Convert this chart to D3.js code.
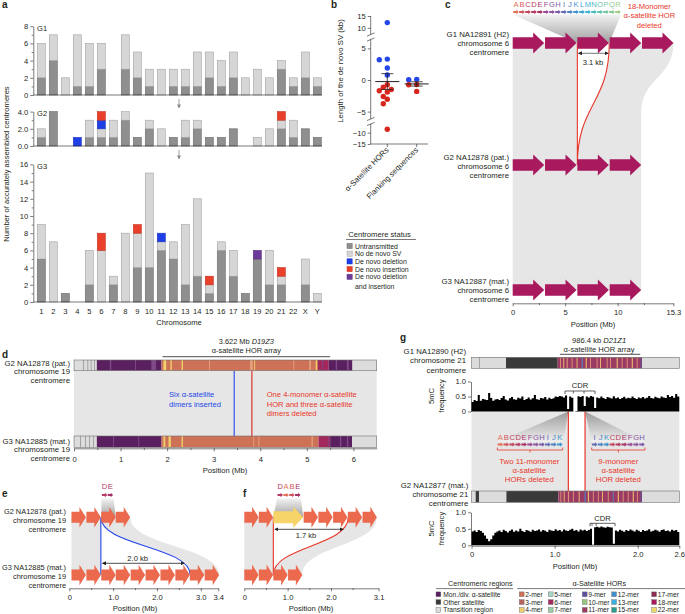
<!DOCTYPE html>
<html>
<head>
<meta charset="utf-8">
<script src="https://cdn.jsdelivr.net/npm/d3@7"></script>
<style>
  body { margin: 0; background: #fff; }
  svg { font-family: "Liberation Sans", Arial, Helvetica, sans-serif; }
</style>
</head>
<body>
<svg id="fig" width="685" height="614"></svg>
<script>
// ---------- a: accurately assembled centromeres ----------
const chromosomes = ['1','2','3','4','5','6','7','8','9','10','11','12','13','14','15','16','17','18','19','20','21','22','X','Y'];
const g1Untransmitted = [2,4,0,1,1,3,0,3,2,1,0,1,1,1,2,1,2,0,0,0,3,1,2,1];
const g1NoSV          = [4,3,2,6,5,3,0,4,3,2,3,2,2,4,3,3,3,2,3,2,1,1,3,1];
const g2Untransmitted = [1,4,0,0,1,1,1,3,1,2,0,1,1,2,1,1,2,0,0,0,2,1,2,1];
const g2NoSV          = [1,0,0,0,2,1,2,1,0,1,2,0,2,1,0,0,0,0,1,2,1,2,0,0];
const g2Insertion     = [0,0,0,1,0,1,0,0,0,0,0,0,0,0,0,0,0,0,0,0,0,0,0,0];
const g2Deletion      = [0,0,0,0,0,1,0,0,0,0,0,0,0,0,0,0,0,0,0,0,1,0,0,0];
const g3Untransmitted = [5,0,1,0,2,0,2,0,4,4,6,5,2,3,1,6,3,1,5,2,2,0,2,0];
const g3NoSV          = [4,7,0,0,4,6,1,8,4,11,1,2,7,9,1,1,3,0,0,4,1,0,3,1];
const g3Insertion     = [0,0,0,0,0,0,0,0,0,0,1,0,0,0,0,0,0,0,0,0,0,0,0,0];
const g3Deletion      = [0,0,0,0,0,2,0,0,1,0,0,0,0,0,1,0,0,0,0,0,1,0,0,0];
const g3DelIns        = [0,0,0,0,0,0,0,0,0,0,0,0,0,0,0,0,0,0,1,0,0,0,0,0];
const statusNames = ['Untransmitted','No de novo SV','De novo deletion','De novo insertion','De novo deletion|and insertion'];

// ---------- b: length of de novo SVs ----------
const svGroups = ['α-Satellite HORs','Flanking sequences'];
const horInsertions = [12.2, 3.2, 3.3, 1.9, 0.8];
const horDeletions = [-0.75, -1.15, -1.5, -1.7, -1.9, -2.6, -3.05, -3.75, -8.5];
const flankInsertions = [0.1, 0.05];
const flankDeletions = [-0.7, -0.75, -1.8];
const bTicks = [-15, -10, -5, 0, 5, 10, 15];

// ---------- c: chromosome 6 HOR deletion ----------
const cMonomers = ['A','B','C','D','E','F','G','H','I','J','K','L','M','N','O','P','Q','R'];
const cG1Hors = [[0,3.0],[3.08,6.08],[6.16,9.16],[9.24,12.24],[12.32,15.32]];
const cG2Hors = [[0,3.0],[3.08,6.08],[6.16,9.16],[9.24,12.24]];
const cG3Hors = [[0,3.0],[3.08,6.08],[6.16,9.16],[9.24,12.24]];
const cDeletion = [6.16, 9.2];
const cTicks = [0, 5, 10, 15.3];

// ---------- d: chromosome 19 array ----------
const dArray = [1.9, 5.5];
const dInsertionAt = 3.44;
const dDeletionAt = 3.82;
const dRegionsG2 = [[0,0.49,'transition'],[0.49,1.88,'mon'],[1.88,5.24,'2-mer'],[5.24,5.47,'6-mer'],[5.47,5.98,'mon'],[5.98,6.5,'transition']];
const dStripesG2 = [[0.2,0.015,'tline'],[0.29,0.015,'tline'],[0.36,0.015,'tline'],[0.43,0.015,'tline'],[0.77,0.03,'monLight'],[1.31,0.02,'monLight'],[1.66,0.1,'monLight'],[1.92,0.06,'4-mer'],[2.07,0.03,'4-mer'],[2.31,0.03,'4-mer'],[2.9,0.02,'hl'],[3.78,0.06,'hl'],[3.87,0.02,'4-mer'],[4.71,0.02,'hl'],[5.05,0.04,'hl'],[5.19,0.03,'4-mer'],[5.33,0.02,'monLight'],[5.62,0.03,'monLight'],[5.86,0.04,'monLight']];
const dRegionsG3 = [[0,0.49,'transition'],[0.49,1.88,'mon'],[1.88,5.25,'2-mer'],[5.25,5.5,'6-mer'],[5.5,5.97,'mon'],[5.97,6.5,'transition']];
const dStripesG3 = [[0.13,0.015,'tline'],[0.24,0.015,'tline'],[0.33,0.015,'tline'],[0.41,0.015,'tline'],[0.84,0.02,'monLight'],[1.38,0.02,'monLight'],[1.92,0.04,'4-mer'],[2.03,0.05,'4-mer'],[2.31,0.03,'4-mer'],[3.85,0.02,'hl'],[3.96,0.02,'hl'],[5.1,0.03,'hl'],[5.45,0.02,'monLight'],[5.71,0.03,'monLight'],[5.86,0.03,'monLight']];
const dTicks = [0,1,2,3,4,5,6];

// ---------- e / f: chromosome 19 HOR changes ----------
const eMonomers = ['D','E'];
const eG2Hors = [[0.05,0.38,'2-mer'],[0.39,0.72,'2-mer'],[0.73,1.06,'2-mer'],[1.06,1.39,'2-mer']];
const eG3Hors = [[0.05,0.38,'2-mer'],[0.39,0.72,'2-mer'],[0.73,1.06,'2-mer'],[1.06,1.39,'2-mer'],[1.40,1.73,'2-mer'],[1.74,2.07,'2-mer'],[2.08,2.41,'2-mer'],[2.42,2.75,'2-mer'],[2.75,3.08,'2-mer'],[3.09,3.42,'2-mer']];
const eInsertion = [0.72, 2.76];
const eTicks = [0, 1, 2, 3, 3.4];
const fMonomers = ['D','A','B','E'];
const fG2Hors = [[0,0.33,'2-mer'],[0.335,0.665,'2-mer'],[0.67,1.36,'4-mer'],[1.37,1.70,'2-mer'],[1.71,2.04,'2-mer'],[2.05,2.38,'2-mer'],[2.39,2.72,'2-mer'],[2.73,3.06,'2-mer']];
const fG3Hors = [[0,0.33,'2-mer'],[0.335,0.665,'2-mer'],[0.67,1.0,'2-mer'],[1.01,1.34,'2-mer']];
const fDeletion = [0.67, 2.40];
const fTicks = [0, 1, 2, 3.1];

// ---------- g: chromosome 21 with CDR ----------
const gArray = [1.04, 2.03];
const gRegionsG1 = [[0,0.415,'transition'],[0.415,1.037,'other'],[1.037,2.03,'11-mer'],[2.03,2.05,'mon'],[2.05,2.5,'transition']];
const gStripesG1 = [[0.09,0.008,'tline'],[1.065,0.01,'hl'],[1.105,0.01,'4-mer'],[1.145,0.012,'hl'],[1.205,0.01,'hl'],[1.265,0.01,'4-mer'],[1.326,0.012,'12-mer'],[1.374,0.012,'4-mer'],[1.426,0.01,'hl'],[1.506,0.01,'hl'],[1.546,0.01,'4-mer'],[1.627,0.01,'hl'],[1.667,0.01,'hl'],[1.747,0.012,'4-mer'],[1.807,0.01,'hl'],[1.868,0.01,'hl'],[1.928,0.012,'4-mer'],[1.988,0.01,'hl']];
const gRegionsG2 = [[0,0.05,'transition'],[0.05,0.09,'other'],[0.09,0.42,'transition'],[0.42,1.045,'other'],[1.045,2.03,'11-mer'],[2.03,2.05,'mon'],[2.05,2.5,'transition']];
const gStripesG2 = [[1.07,0.01,'hl'],[1.11,0.01,'4-mer'],[1.16,0.012,'hl'],[1.22,0.01,'hl'],[1.29,0.01,'4-mer'],[1.36,0.012,'12-mer'],[1.40,0.012,'4-mer'],[1.46,0.01,'hl'],[1.52,0.01,'hl'],[1.57,0.01,'4-mer'],[1.64,0.01,'hl'],[1.70,0.01,'12-mer'],[1.76,0.012,'4-mer'],[1.82,0.01,'hl'],[1.88,0.01,'hl'],[1.94,0.012,'4-mer'],[1.99,0.01,'hl']];
const gLeftMonomers = ['A','B','C','D','E','F','G','H','I','J','K'];
const gRightMonomers = ['I','J','K','C','D','E','F','G','H'];
const gDeletions = [1.165, 1.366];
const gCdrG1 = [1.125, 1.225, 1.354, 1.486];
const gCdrG2 = [1.426, 1.45, 1.5, 1.727];
const methylBin = 0.025;
const methylG1 = [0.32,0.38,0.35,0.55,0.36,0.42,0.40,0.38,0.62,0.45,0.36,0.40,
  0.42,0.38,0.45,0.52,0.40,0.37,0.44,0.48,0.41,0.39,0.46,0.43,0.50,0.38,0.42,0.47,0.40,0.44,0.55,0.41,0.39,0.45,0.43,0.48,0.40,0.46,0.42,0.44,0.50,
  0.48,0.52,0.50,0.47,0.53,0.08,0.50,0.46,0.0,0.02,0.51,0.48,0.52,0.18,0.50,0.47,0.52,0.49,0.12,
  0.47,0.44,0.50,0.45,0.42,0.48,0.46,0.43,0.51,0.44,0.47,0.42,0.45,0.49,0.43,0.46,0.44,0.50,0.45,0.42,
  0.47,0.44,0.48,0.43,0.46,0.52,0.45,0.43,0.49,0.46,0.44,0.50,0.47,0.45,0.55,0.48,0.52,0.46,0.58,0.50];
const methylG2 = [0.42,0.45,0.40,0.46,0.43,0.38,0.30,0.20,0.12,0.18,0.30,
  0.38,0.42,0.45,0.40,0.47,0.43,0.39,0.44,0.48,0.41,0.45,0.42,0.50,0.43,0.40,0.46,0.44,0.41,0.47,0.43,0.45,0.48,0.42,0.46,0.44,0.40,
  0.47,0.45,0.43,0.49,0.44,0.46,0.42,0.48,0.45,0.43,0.47,0.50,0.44,0.46,0.42,0.48,0.45,0.47,0.43,0.46,
  0.50,0.02,0.55,0.56,0.54,0.57,0.55,0.53,0.56,0.55,0.54,0.05,
  0.45,0.42,0.47,0.44,0.41,0.46,0.43,0.48,0.45,0.42,0.47,0.44,0.40,0.46,0.43,0.45,0.49,0.42,0.44,0.47,0.45,0.41,0.46,0.48,0.43,0.45,0.42,0.47,0.44,0.46,0.40];

const regionNames = [['mon','Mon./div. α-satellite'],['other','Other satellite'],['transition','Transition region']];
const horNames = ['2-mer','3-mer','4-mer','5-mer','6-mer','7-mer','9-mer','10-mer','11-mer','12-mer','13-mer','15-mer','17-mer','18-mer','22-mer'];

// ---------- colours ----------
const INK = '#231f20';
const FS = 7.6;
const segColor = {transition:'#dcdcdc', tline:'#8a8a8a', mon:'#5a1f5f', monLight:'#7f4a86', other:'#3a3a3a', hl:'#e2a07c',
  '2-mer':'#cd7157','3-mer':'#b8625e','4-mer':'#f0cf6e','5-mer':'#a8d6c6','6-mer':'#a2275c','7-mer':'#97cea5',
  '9-mer':'#5b4fa0','10-mer':'#96c680','11-mer':'#9b3a62','12-mer':'#4590cf','13-mer':'#3bb0df','15-mer':'#2a9d90',
  '17-mer':'#8c2b4f','18-mer':'#a6195d','22-mer':'#eed86c'};
const arrowColor = {'18-mer':'#a8195d','2-mer':'#eb6a4e','4-mer':'#f6d46a'};
const monomerColor = {A:'#e2735a',B:'#d2555c',C:'#c4455e',D:'#b63a62',E:'#a83266',F:'#9a4a93',G:'#8d55a0',H:'#7b5ba8',I:'#5f6cb4',J:'#4b82c3',K:'#3f94cd',L:'#3aa6d6',M:'#3db5d3',N:'#4bbcc3',O:'#5fc2b0',P:'#76c79f',Q:'#8bcb92',R:'#a0cf88'};
const RED = '#e8362a', BLUE = '#2346e8';

const svg = d3.select('#fig');
const defs = svg.append('defs');
function marker(id, col) {
  defs.append('marker').attr('id', id).attr('viewBox', '0 0 10 10').attr('refX', 9).attr('refY', 5)
    .attr('markerWidth', 5).attr('markerHeight', 5).attr('orient', 'auto-start-reverse')
    .append('path').attr('d', 'M0,0L10,5L0,10z').attr('fill', col);
}
marker('ah', INK); marker('ahg', '#8c8c8c');
function grad(id, c0, c1) {
  const lg = defs.append('linearGradient').attr('id', id).attr('x1', 0).attr('x2', 0).attr('y1', 0).attr('y2', 1);
  lg.append('stop').attr('offset', 0).attr('stop-color', c0);
  lg.append('stop').attr('offset', 1).attr('stop-color', c1);
}
grad('fadeDown', '#f2f2f2', '#a0a0a0');
grad('fadeUp', '#9a9a9a', '#f0f0f0');

function label(g, x, y, s, o = {}) {
  const t = g.append('text').attr('x', x).attr('y', y).text(s)
    .attr('font-size', o.size || FS).attr('fill', o.color || INK).attr('text-anchor', o.anchor || 'start');
  if (o.weight) t.attr('font-weight', o.weight);
  return t;
}
function block(g, x, y, arr, o = {}) {
  arr.forEach((s, i) => label(g, x, y + i * (o.lh || 8.8), s, o));
}
function styleAxis(ax) {
  ax.attr('font-family', null).attr('font-size', FS);
  ax.selectAll('.domain').attr('stroke', INK).attr('stroke-width', 0.6);
  ax.selectAll('.tick line').attr('stroke', INK).attr('stroke-width', 0.6);
  ax.selectAll('.tick text').attr('fill', INK);
  return ax;
}
function hArrow(g, x0, x1, y, fill, bodyH, headH, headLen) {
  const hl = Math.min(headLen, (x1 - x0) * 0.7);
  g.append('path').attr('fill', fill)
    .attr('d', `M${x0},${y - bodyH / 2}H${x1 - hl}V${y - headH / 2}L${x1},${y}L${x1 - hl},${y + headH / 2}V${y + bodyH / 2}H${x0}Z`);
}
function sCurve(x1, y1, x2, y2) {
  const ym = (y1 + y2) / 2;
  return `C${x1},${ym} ${x2},${ym} ${x2},${y2}`;
}
function posAxis(g, x, y, ticks, fmt, minor, pad) {
  const ax = g.append('g').attr('transform', `translate(0,${y})`)
    .call(d3.axisBottom(x).tickValues(ticks).tickFormat(fmt).tickSize(3).tickPadding(pad).tickSizeOuter(0));
  styleAxis(ax);
  if (minor) {
    const mn = g.append('g').attr('transform', `translate(0,${y})`)
      .call(d3.axisBottom(x).tickValues(minor).tickFormat('').tickSize(1.8).tickSizeOuter(0));
    styleAxis(mn); mn.select('.domain').remove();
  }
  return ax;
}
function drawBar(g, x, y, h, regions, stripes) {
  regions.forEach(([a, b, t]) => g.append('rect').attr('x', x(a)).attr('y', y).attr('width', x(b) - x(a)).attr('height', h).attr('fill', segColor[t]));
  stripes.forEach(([p, w, t]) => g.append('rect').attr('x', x(p)).attr('y', y).attr('width', Math.max(0.7, x(p + w) - x(p))).attr('height', h).attr('fill', segColor[t]));
  const a0 = regions[0][0], a1 = regions[regions.length - 1][1];
  g.append('rect').attr('x', x(a0)).attr('y', y).attr('width', x(a1) - x(a0)).attr('height', h)
    .attr('fill', 'none').attr('stroke', '#707070').attr('stroke-width', 0.6);
}
function monomerRow(g, x0, w, y, letters, textY) {
  letters.forEach((m, i) => {
    hArrow(g, x0 + i * w + 0.2, x0 + (i + 1) * w - 0.2, y, monomerColor[m], 2.2, 4.6, 2.4);
    label(g, x0 + (i + 0.5) * w, textY, m, {anchor: 'middle', color: monomerColor[m]});
  });
}
function panelLetter(x, y, s) { label(svg, x, y, s, {size: 10, weight: 'bold'}); }

// ===== panel a =====
const pa = svg.append('g');
panelLetter(2, 8, 'a');
const xA = d3.scaleBand().domain(chromosomes).range([35.3, 323.3]).paddingInner(0.33).paddingOuter(0.165);
const statusKeys = ['untransmitted', 'noSV', 'insertion', 'deletion', 'delIns'];
const statusFill = {untransmitted: '#8f8f8f', noSV: '#d6d6d6', insertion: '#1f3fe6', deletion: '#e8402a', delIns: '#6c3b99'};
const statusLine = {untransmitted: '#6a6a6a', noSV: '#a3a3a3', insertion: '#1a35c8', deletion: '#c63321', delIns: '#58307f'};
const zeros = chromosomes.map(() => 0);
const generations = [
  {name: 'G1', top: 8, base: 95, series: {untransmitted: g1Untransmitted, noSV: g1NoSV}},
  {name: 'G2', top: 4, base: 146, series: {untransmitted: g2Untransmitted, noSV: g2NoSV, insertion: g2Insertion, deletion: g2Deletion}},
  {name: 'G3', top: 16, base: 302, series: {untransmitted: g3Untransmitted, noSV: g3NoSV, insertion: g3Insertion, deletion: g3Deletion, delIns: g3DelIns}}
];
generations.forEach(gen => {
  const y = d3.scaleLinear().domain([0, gen.top]).range([gen.base, gen.base - gen.top * 8.6]);
  const rows = chromosomes.map((c, i) => {
    const r = {chr: c};
    statusKeys.forEach(k => r[k] = (gen.series[k] || zeros)[i]);
    return r;
  });
  d3.stack().keys(statusKeys)(rows).forEach(layer => {
    pa.append('g').selectAll('rect').data(layer.filter(d => d[1] > d[0])).join('rect')
      .attr('x', d => xA(d.data.chr)).attr('width', xA.bandwidth())
      .attr('y', d => y(d[1])).attr('height', d => y(d[0]) - y(d[1]))
      .attr('fill', statusFill[layer.key]).attr('stroke', statusLine[layer.key]).attr('stroke-width', 0.6);
  });
  styleAxis(pa.append('g').attr('transform', 'translate(33.3,0)')
    .call(d3.axisLeft(y).tickValues(d3.range(0, gen.top + 1, 2)).tickSize(3).tickPadding(2).tickSizeOuter(0)));
  const mn = pa.append('g').attr('transform', 'translate(33.3,0)')
    .call(d3.axisLeft(y).tickValues(d3.range(1, gen.top, 2)).tickFormat('').tickSize(1.6).tickSizeOuter(0));
  styleAxis(mn); mn.select('.domain').remove();
  pa.append('line').attr('x1', 33.3).attr('x2', 322).attr('y1', gen.base).attr('y2', gen.base).attr('stroke', INK).attr('stroke-width', 0.6);
  label(pa, 37, y(gen.top) + 4.6, gen.name);
});
const chrAxis = pa.append('g').attr('transform', 'translate(0,302)').call(d3.axisBottom(xA).tickSize(0).tickPadding(7));
styleAxis(chrAxis); chrAxis.select('.domain').remove();
label(pa, 179, 325.4, 'Chromosome', {anchor: 'middle'});
label(pa, 0, 0, 'Number of accurately assembled centromeres', {anchor: 'middle'}).attr('transform', 'translate(9,164) rotate(-90)');
[[99, 108], [150, 159]].forEach(([a, b]) => pa.append('line').attr('x1', 179).attr('x2', 179).attr('y1', a).attr('y2', b)
  .attr('stroke', '#8c8c8c').attr('stroke-width', 0.8).attr('marker-end', 'url(#ahg)'));
// legend
label(pa, 348.3, 236.8, 'Centromere status');
pa.append('line').attr('x1', 346).attr('x2', 416).attr('y1', 239.5).attr('y2', 239.5).attr('stroke', INK).attr('stroke-width', 0.6);
statusKeys.forEach((k, i) => {
  const yc = 246 + i * 7.7;
  pa.append('rect').attr('x', 347).attr('y', yc - 2.6).attr('width', 5.2).attr('height', 5.2)
    .attr('fill', statusFill[k]).attr('stroke', statusLine[k]).attr('stroke-width', 0.5);
  statusNames[i].split('|').forEach((s, j) => label(pa, 355, yc + 2.5 + j * 9.2, s, {size: 6.9}));
});

// ===== panel b =====
const pb = svg.append('g');
panelLetter(331, 8, 'b');
const yB = d3.scaleLinear().domain([-15, -7.5, -5.8, 5.8, 8, 15]).range([144, 127, 116.7, 43.3, 32.5, 16]);
const xB = d3.scalePoint().domain(svGroups).range([387.3, 416.7]);
const ayB = pb.append('g').attr('transform', 'translate(370.7,0)')
  .call(d3.axisLeft(yB).tickValues(bTicks).tickSize(3).tickPadding(2).tickSizeOuter(0));
styleAxis(ayB); ayB.select('.domain').remove();
[[16, 34.5], [39.5, 119], [124, 144]].forEach(([a, b]) => pb.append('line').attr('x1', 370.7).attr('x2', 370.7).attr('y1', a).attr('y2', b).attr('stroke', INK).attr('stroke-width', 0.6));
[[34.5, 39.5], [119, 124]].forEach(pair => pair.forEach(yy => pb.append('line')
  .attr('x1', 367).attr('x2', 374.5).attr('y1', yy + 1.6).attr('y2', yy - 1.6).attr('stroke', INK).attr('stroke-width', 0.6)));
pb.append('line').attr('x1', 370.7).attr('x2', 428).attr('y1', 144).attr('y2', 144).attr('stroke', INK).attr('stroke-width', 0.6);
svGroups.forEach(gname => {
  pb.append('line').attr('x1', xB(gname)).attr('x2', xB(gname)).attr('y1', 144).attr('y2', 147).attr('stroke', INK).attr('stroke-width', 0.6);
  label(pb, 0, 0, gname, {anchor: 'end', size: 7.8}).attr('transform', `translate(${xB(gname) + 2},${150.5}) rotate(-45)`);
});
label(pb, 0, 0, 'Length of the de novo SV (kb)', {anchor: 'middle', size: 7.8}).attr('transform', 'translate(343,71) rotate(-90)');
const bSets = [[svGroups[0], horInsertions, horDeletions], [svGroups[1], flankInsertions, flankDeletions]];
bSets.forEach(([gname, ins, del]) => {
  const pts = ins.map(v => ({v, c: BLUE})).concat(del.map(v => ({v, c: '#d7261e'})))
    .sort((a, b) => b.v - a.v);
  const placed = [];
  pts.forEach(p => {
    const py = yB(p.v);
    for (const off of [0, -4, 4, -8, 8]) {
      if (placed.every(q => Math.hypot(q.x - off, q.y - py) >= 4.6)) { p.x = off; p.y = py; placed.push(p); break; }
    }
  });
  const cx = xB(gname);
  pb.append('g').selectAll('circle').data(placed).join('circle')
    .attr('cx', d => cx + d.x).attr('cy', d => d.y).attr('r', 2.7).attr('fill', d => d.c);
  const vals = ins.concat(del);
  const mean = d3.mean(vals), sem = d3.deviation(vals) / Math.sqrt(vals.length);
  pb.append('line').attr('x1', cx - 12).attr('x2', cx + 12).attr('y1', yB(mean)).attr('y2', yB(mean)).attr('stroke', INK).attr('stroke-width', 1);
  pb.append('line').attr('x1', cx).attr('x2', cx).attr('y1', yB(mean + sem)).attr('y2', yB(mean - sem)).attr('stroke', INK).attr('stroke-width', 0.8);
  [mean + sem, mean - sem].forEach(v => pb.append('line').attr('x1', cx - 6).attr('x2', cx + 6).attr('y1', yB(v)).attr('y2', yB(v)).attr('stroke', INK).attr('stroke-width', 0.8));
});

// ===== panel c =====
const pc = svg.append('g');
panelLetter(445, 8, 'c');
const xC = d3.scaleLinear().domain([0, 15.3]).range([512.7, 673.3]);
const cY = [43, 165, 290];
// band G1 -> G2 -> G3
pc.append('path').attr('fill', '#e6e6e6')
  .attr('d', `M${xC(0)},${cY[0]}H${xC(15.32)}${sCurve(xC(15.32), cY[0], xC(12.24), cY[0] + 70)}V${cY[2]}H${xC(0)}Z`);
pc.append('path').attr('fill', '#fff')
  .attr('d', `M${xC(cDeletion[1])},${cY[0]}${sCurve(xC(cDeletion[1]), cY[0], xC(cDeletion[0]), cY[1])}L${xC(cDeletion[0])},${cY[0]}Z`);
pc.append('path').attr('fill', 'none').attr('stroke', RED).attr('stroke-width', 1.1)
  .attr('d', `M${xC(cDeletion[1])},${cY[0]}${sCurve(xC(cDeletion[1]), cY[0], xC(cDeletion[0]), cY[1])}M${xC(cDeletion[0])},${cY[0]}V${cY[1]}`);
pc.append('path').attr('fill', 'url(#fadeDown)')
  .attr('d', `M513,14.5H621L${xC(cDeletion[1])},${cY[0]}H${xC(cDeletion[0])}Z`);
[[cG1Hors, cY[0]], [cG2Hors, cY[1]], [cG3Hors, cY[2]]].forEach(([hors, y]) =>
  hors.forEach(([a, b]) => hArrow(pc, xC(a), xC(b), y, arrowColor['18-mer'], 11.3, 21, 11)));
monomerRow(pc, 513, 6, 12, cMonomers, 7.3);
pc.append('line').attr('x1', xC(cDeletion[0]) + 1).attr('x2', xC(cDeletion[1]) - 1).attr('y1', 53.3).attr('y2', 53.3)
  .attr('stroke', '#555').attr('stroke-width', 0.8).attr('marker-start', 'url(#ah)').attr('marker-end', 'url(#ah)');
label(pc, 593, 64.5, '3.1 kb', {anchor: 'middle'});
block(pc, 649.3, 8.5, ['18-Monomer', 'α-satellite HOR', 'deleted'], {anchor: 'middle', color: RED, lh: 9.5});
block(pc, 509, 37, ['G1 NA12891 (H2)', 'chromosome 6', 'centromere'], {anchor: 'end', size: 7.8, lh: 9.2});
block(pc, 509, 160, ['G2 NA12878 (pat.)', 'chromosome 6', 'centromere'], {anchor: 'end', size: 7.8, lh: 9.2});
block(pc, 509, 283.7, ['G3 NA12887 (mat.)', 'chromosome 6', 'centromere'], {anchor: 'end', size: 7.8, lh: 9.2});
posAxis(pc, xC, 303.3, cTicks, d => String(d), [2.5, 7.5, 12.5], 3);
label(pc, 593, 326.7, 'Position (Mb)', {anchor: 'middle'});

// ===== panel d =====
const pd = svg.append('g');
panelLetter(2, 358, 'd');
const xD = d3.scaleLinear().domain([0, 6.5]).range([74, 376.7]);
pd.append('rect').attr('x', xD(0)).attr('y', 371).attr('width', xD(6.5) - xD(0)).attr('height', 65).attr('fill', '#e6e6e6');
pd.append('line').attr('x1', xD(dInsertionAt)).attr('x2', xD(dInsertionAt)).attr('y1', 370.7).attr('y2', 436).attr('stroke', BLUE).attr('stroke-width', 1.1);
pd.append('line').attr('x1', xD(dDeletionAt)).attr('x2', xD(dDeletionAt)).attr('y1', 370.7).attr('y2', 436).attr('stroke', '#d7261e').attr('stroke-width', 1.1);
drawBar(pd, xD, 360, 10.7, dRegionsG2, dStripesG2);
drawBar(pd, xD, 436, 11.3, dRegionsG3, dStripesG3);
const dMid = xD((dArray[0] + dArray[1]) / 2);
const dTitle = label(pd, dMid, 344.4, '3.622 Mb ', {anchor: 'middle', size: 7.4});
dTitle.append('tspan').attr('font-style', 'italic').text('D19Z3');
label(pd, dMid, 353.3, 'α-satellite HOR array', {anchor: 'middle', size: 7.4});
pd.append('line').attr('x1', xD(dArray[0])).attr('x2', xD(dArray[1])).attr('y1', 356.7).attr('y2', 356.7).attr('stroke', INK).attr('stroke-width', 0.8);
block(pd, 169, 397.4, ['Six α-satellite', 'dimers inserted'], {color: BLUE, lh: 9.3});
block(pd, 266.7, 397.4, ['One 4-monomer α-satellite', 'HOR and three α-satellite', 'dimers deleted'], {color: RED, lh: 9.3});
block(pd, 70, 366, ['G2 NA12878 (pat.)', 'chromosome 19', 'centromere'], {anchor: 'end', size: 7.8, lh: 8.4});
block(pd, 70, 443.7, ['G3 NA12885 (mat.)', 'chromosome 19', 'centromere'], {anchor: 'end', size: 7.8, lh: 8.4});
posAxis(pd, xD, 448.3, dTicks, d => String(d), d3.range(0.5, 6.5, 1), 5);
label(pd, 225, 473.4, 'Position (Mb)', {anchor: 'middle'});

// ===== panels e / f =====
function hcrPanel(g, x, yTop, yBot, topHors, botHors, change, col, grow) {
  const t0 = topHors[0][0], t1 = topHors[topHors.length - 1][1], b1 = botHors[botHors.length - 1][1];
  g.append('path').attr('fill', '#e6e6e6')
    .attr('d', `M${x(t0)},${yTop}H${x(t1)}${sCurve(x(t1), yTop, x(b1), yBot)}H${x(t0)}Z`);
  // grow: curve from line (top) to far point (bottom); else far point (top) to line (bottom)
  const [ln, far] = change;
  const curve = grow ? `M${x(ln)},${yTop}${sCurve(x(ln), yTop, x(far), yBot)}` : `M${x(far)},${yTop}${sCurve(x(far), yTop, x(ln), yBot)}`;
  const close = grow ? `L${x(ln)},${yBot}Z` : `L${x(ln)},${yTop}Z`;
  g.append('path').attr('fill', '#fff').attr('d', curve + close);
  g.append('path').attr('fill', 'none').attr('stroke', col).attr('stroke-width', 1.1)
    .attr('d', `${curve}M${x(ln)},${yTop}V${yBot}`);
}
const pe = svg.append('g');
panelLetter(2, 497, 'e');
const xE = d3.scaleLinear().domain([0, 3.4]).range([69.3, 218.3]);
const eY = [517.3, 575];
hcrPanel(pe, xE, eY[0], eY[1], eG2Hors, eG3Hors, eInsertion, BLUE, true);
pe.append('path').attr('fill', 'url(#fadeDown)').attr('d', `M101.5,498.5H113.5L${xE(1.06)},${eY[0]}H${xE(0.73)}Z`);
[[eG2Hors, eY[0]], [eG3Hors, eY[1]]].forEach(([hors, y]) => hors.forEach(([a, b, t]) => hArrow(pe, xE(a), xE(b), y, arrowColor[t], 11, 20.5, 6.5)));
monomerRow(pe, 101.7, 5.8, 495, eMonomers, 489.4);
pe.append('line').attr('x1', xE(eInsertion[0]) + 1.5).attr('x2', xE(eInsertion[1]) - 6).attr('y1', 563.3).attr('y2', 563.3)
  .attr('stroke', INK).attr('stroke-width', 0.8).attr('marker-start', 'url(#ah)').attr('marker-end', 'url(#ah)');
label(pe, 137.7, 560.8, '2.0 kb', {anchor: 'middle'});
block(pe, 66, 514.4, ['G2 NA12878 (pat.)', 'chromosome 19', 'centromere'], {anchor: 'end', size: 7.4, lh: 8.8});
block(pe, 66, 570, ['G3 NA12885 (mat.)', 'chromosome 19', 'centromere'], {anchor: 'end', size: 7.4, lh: 8.8});
posAxis(pe, xE, 588.3, eTicks, d => d === 0 ? '0' : d3.format('.1f')(d), [0.5, 1.5, 2.5], 3.4);
label(pe, 135, 611, 'Position (Mb)', {anchor: 'middle'});

const pf = svg.append('g');
panelLetter(243, 497, 'f');
const xF = d3.scaleLinear().domain([0, 3.1]).range([244.3, 378.6]);
hcrPanel(pf, xF, eY[0], eY[1], fG2Hors, fG3Hors, fDeletion, RED, false);
pf.append('path').attr('fill', 'url(#fadeDown)').attr('d', `M277,498.5H301L${xF(1.36)},${eY[0]}H${xF(0.67)}Z`);
[[fG2Hors, eY[0]], [fG3Hors, eY[1]]].forEach(([hors, y]) => hors.forEach(([a, b, t]) => hArrow(pf, xF(a), xF(b), y, arrowColor[t], t === '4-mer' ? 12 : 11, 21, t === '4-mer' ? 10 : 6.5)));
monomerRow(pf, 277.3, 5.85, 495, fMonomers, 489.4);
pf.append('line').attr('x1', xF(fDeletion[0]) + 1.5).attr('x2', xF(fDeletion[1]) - 5).attr('y1', 529.3).attr('y2', 529.3)
  .attr('stroke', INK).attr('stroke-width', 0.8).attr('marker-start', 'url(#ah)').attr('marker-end', 'url(#ah)');
label(pf, 306, 537.7, '1.7 kb', {anchor: 'middle'});
posAxis(pf, xF, 588.3, fTicks, d => d === 0 ? '0' : d3.format('.1f')(d), [0.5, 1.5, 2.5], 3.4);
label(pf, 311, 611, 'Position (Mb)', {anchor: 'middle'});

// ===== panel g =====
const pg = svg.append('g');
panelLetter(400, 341, 'g');
const xG = d3.scaleLinear().domain([0, 2.5]).range([471.5, 679.3]);
const yM1 = d3.scaleLinear().domain([0, 1]).range([411.5, 381.5]);
const yM2 = d3.scaleLinear().domain([0, 1]).range([545.3, 512.3]);
const gMid = xG((gArray[0] + gArray[1]) / 2);
const gTitle = label(pg, gMid, 342.7, '986.4 kb ', {anchor: 'middle'});
gTitle.append('tspan').attr('font-style', 'italic').text('D21Z1');
label(pg, gMid, 351.7, 'α-satellite HOR array', {anchor: 'middle'});
pg.append('line').attr('x1', xG(gArray[0]) + 2).attr('x2', xG(gArray[1])).attr('y1', 354.3).attr('y2', 354.3).attr('stroke', INK).attr('stroke-width', 0.8);
drawBar(pg, xG, 357.3, 11, gRegionsG1, gStripesG1);
// connecting band
pg.append('rect').attr('x', xG(0)).attr('y', 411.5).attr('width', xG(2.5) - xG(0)).attr('height', 79.5).attr('fill', '#e6e6e6');
pg.append('rect').attr('x', xG(gDeletions[0])).attr('y', 411.5).attr('width', xG(gDeletions[1]) - xG(gDeletions[0])).attr('height', 79.5).attr('fill', '#fff');
pg.append('path').attr('fill', 'url(#fadeUp)').attr('d', `M${xG(gDeletions[0])},411.5L563.3,442H496.7Z`);
pg.append('path').attr('fill', 'url(#fadeUp)').attr('d', `M${xG(gDeletions[1])},411.5L645,442H591.7Z`);
gDeletions.forEach(p => pg.append('line').attr('x1', xG(p)).attr('x2', xG(p)).attr('y1', 411.5).attr('y2', 491).attr('stroke', RED).attr('stroke-width', 1.2));
drawBar(pg, xG, 491, 11.3, gRegionsG2, gStripesG2);
// methylation tracks
function methylTrack(vals, y) {
  const pts = vals.map((v, i) => [i * methylBin, v]).concat([[vals.length * methylBin, vals[vals.length - 1]]]);
  pg.append('path').attr('fill', '#000')
    .attr('d', d3.area().x(d => xG(Math.min(2.5, d[0]))).y0(y(0)).y1(d => y(d[1])).curve(d3.curveStepAfter)(pts));
  const ax = pg.append('g').attr('transform', 'translate(471,0)')
    .call(d3.axisLeft(y).tickValues([0, 0.5, 1]).tickFormat(d => d === 0 ? '0' : d3.format('.1f')(d)).tickSize(3).tickPadding(2).tickSizeOuter(0));
  styleAxis(ax);
}
methylTrack(methylG1, yM1);
methylTrack(methylG2, yM2);
function cdr(ticks, yb) {
  const x0 = xG(ticks[0]), x1 = xG(ticks[ticks.length - 1]);
  let d = `M${x0},${yb + 3}V${yb}H${x1}V${yb + 3}`;
  ticks.slice(1, -1).forEach(t => { d += `M${xG(t)},${yb}V${yb + 2.5}`; });
  pg.append('path').attr('d', d).attr('fill', 'none').attr('stroke', INK).attr('stroke-width', 0.7);
  label(pg, (x0 + x1) / 2, yb - 2.6, 'CDR', {anchor: 'middle'});
}
cdr(gCdrG1, 391);
cdr(gCdrG2, 523.3);
[396, 528.5].forEach(yc => {
  label(pg, 0, 0, '5mC', {anchor: 'middle'}).attr('transform', `translate(433.5,${yc}) rotate(-90)`);
  label(pg, 0, 0, 'frequency', {anchor: 'middle'}).attr('transform', `translate(444,${yc}) rotate(-90)`);
});
// deleted HOR insets
monomerRow(pg, 497.3, 5.95, 444.5, gLeftMonomers, 440);
monomerRow(pg, 591.7, 5.92, 444.5, gRightMonomers, 440);
[[497.3, 562.7], [591.7, 645]].forEach(([a, b]) => pg.append('path').attr('fill', 'none').attr('stroke', RED).attr('stroke-width', 0.8)
  .attr('d', `M${a},447.5V450H${b}V447.5M${(a + b) / 2},450V452.5`));
block(pg, 529.3, 463.7, ['Two 11-monomer', 'α-satellite', 'HORs deleted'], {anchor: 'middle', color: RED, size: 7.8, lh: 9.3});
block(pg, 618.3, 463.7, ['9-monomer', 'α-satellite', 'HOR deleted'], {anchor: 'middle', color: RED, size: 7.8, lh: 9.3});
block(pg, 466, 353.7, ['G1 NA12890 (H2)', 'chromosome 21', 'centromere'], {anchor: 'end', size: 7.8, lh: 9.4});
block(pg, 468.3, 487.7, ['G2 NA12877 (mat.)', 'chromosome 21', 'centromere'], {anchor: 'end', size: 7.8, lh: 9.2});
const gx = pg.append('g').attr('transform', 'translate(0,545.7)')
  .call(d3.axisBottom(xG).tickValues([0, 1, 2, 2.5]).tickFormat(d => d === 0 ? '0' : d === 2.5 ? '2.6' : d3.format('.1f')(d)).tickSize(3).tickPadding(3).tickSizeOuter(0));
styleAxis(gx);
label(pg, 575, 569.4, 'Position (Mb)', {anchor: 'middle'});
// legend
const LFS = 6.7, LDY = 7.8;
label(pg, 512.7, 586, 'Centromeric regions', {anchor: 'end', size: 7.2});
pg.append('line').attr('x1', 436).attr('x2', 513).attr('y1', 588.6).attr('y2', 588.6).attr('stroke', INK).attr('stroke-width', 0.6);
regionNames.forEach(([k, s], i) => {
  const yc = 594.3 + i * LDY;
  pg.append('rect').attr('x', 436).attr('y', yc - 2.4).attr('width', 4.8).attr('height', 4.8).attr('fill', segColor[k]).attr('stroke', '#666').attr('stroke-width', 0.4);
  label(pg, 443.3, yc + 2.4, s, {size: LFS});
});
label(pg, 599.3, 586, 'α-Satellite HORs', {anchor: 'middle', size: 7.2});
pg.append('line').attr('x1', 517.3).attr('x2', 685).attr('y1', 588.6).attr('y2', 588.6).attr('stroke', INK).attr('stroke-width', 0.6);
const horCols = [519.3, 548.3, 582.3, 611.7, 651.7];
horNames.forEach((k, i) => {
  const cx = horCols[Math.floor(i / 3)], yc = 594.3 + (i % 3) * LDY;
  pg.append('rect').attr('x', cx).attr('y', yc - 2.4).attr('width', 4.8).attr('height', 4.8).attr('fill', segColor[k]).attr('stroke', '#666').attr('stroke-width', 0.4);
  label(pg, cx + 6, yc + 2.4, k, {size: LFS});
});
</script>
</body>
</html>
